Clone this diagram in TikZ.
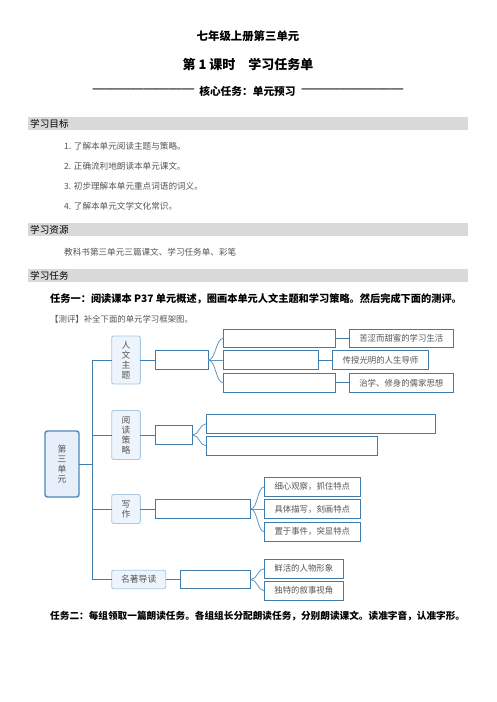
\documentclass[tikz,border=0pt]{standalone}
\usepackage{graphicx}
\usepackage{fontspec}
\setmainfont{Noto Sans CJK SC}
\newfontfamily\dashfont{Latin Modern Roman}
\definecolor{bargray}{HTML}{D9D9D9}
\definecolor{lineblue}{HTML}{3E7CAD}
\definecolor{lightfill}{HTML}{EEF4FB}
\definecolor{lightborder}{HTML}{A9C8E3}
\definecolor{mainborder}{HTML}{4C87BD}
\definecolor{mainfill}{HTML}{E6EFFA}
\definecolor{txtgray}{HTML}{555555}
\newcommand{\dashrun}{\raisebox{-0.45ex}{\scalebox{1}[2.6]{\dashfont\bfseries\fontsize{11.3}{12}\selectfont ————————}}}
\tikzset{
  bar/.style={fill=bargray, draw=none},
  bartext/.style={anchor=west, inner sep=0pt, font=\fontsize{9.6}{10}\selectfont},
  item/.style={anchor=west, inner sep=0pt, text=txtgray, font=\fontsize{8.6}{10}\selectfont},
  task/.style={anchor=west, inner sep=0pt, font=\bfseries\fontsize{10.2}{12}\selectfont},
  lvone/.style={draw=lightborder, fill=lightfill, rounded corners=2pt, line width=0.9pt, inner sep=0pt, outer sep=0pt, text=txtgray, font=\fontsize{8.8}{10}\selectfont, align=center},
  mainbox/.style={draw=mainborder, fill=mainfill, rounded corners=2.5pt, line width=1.4pt, inner sep=0pt, outer sep=0pt, text=txtgray, font=\fontsize{8.8}{10}\selectfont, align=center},
  blank/.style={draw=lineblue, line width=0.9pt, inner sep=0pt, outer sep=0pt},
  lab/.style={draw=lineblue, line width=0.9pt, inner sep=0pt, outer sep=0pt, text=txtgray, font=\fontsize{8.4}{10}\selectfont},
  conn/.style={draw=lineblue, line width=0.9pt},
  brace/.style={draw=lineblue!80, line width=0.8pt}
}
\begin{document}
\begin{tikzpicture}[x=1pt,y=-1pt]
\useasboundingbox[fill=white] (0,0) rectangle (496,702);
% titles
\node[font=\bfseries\fontsize{11.4}{12}\selectfont] (t1) at (248,36) {七年级上册第三单元};
\node[font=\bfseries\fontsize{13}{14}\selectfont] (t2) at (248,64) {第 1 课时\quad 学习任务单};
\node[font=\bfseries\fontsize{10.7}{12}\selectfont, inner sep=0pt] (t3) at (248,92) {\dashrun\hspace{5pt}核心任务：单元预习\hspace{6pt}\dashrun};
% bars
\fill[bar] (28,117) rectangle (468,130);
\node[bartext] (b1) at (30,123.5) {学习目标};
\node[item] (i1) at (64,146) {1. 了解本单元阅读主题与策略。};
\node[item] (i2) at (64,166) {2. 正确流利地朗读本单元课文。};
\node[item] (i3) at (64,186) {3. 初步理解本单元重点词语的词义。};
\node[item] (i4) at (64,206) {4. 了解本单元文学文化常识。};
\fill[bar] (28,223) rectangle (468,236);
\node[bartext] (b2) at (30,229.5) {学习资源};
\node[item] (r1) at (64,252) {教科书第三单元三篇课文、学习任务单、彩笔};
\fill[bar] (28,269) rectangle (468,282);
\node[bartext] (b3) at (30,275.5) {学习任务};
\node[task] (k1) at (50,299) {任务一：阅读课本 P37 单元概述，圈画本单元人文主题和学习策略。然后完成下面的测评。};
\node[item, font=\fontsize{8.4}{10}\selectfont] (k2) at (50,319) {【测评】补全下面的单元学习框架图。};
\node[task, font=\bfseries\fontsize{9.65}{12}\selectfont] (k3) at (50,616) {任务二：每组领取一篇朗读任务。各组组长分配朗读任务，分别朗读课文。读准字音，认准字形。};
% mind map
\node[mainbox, minimum width=34pt, minimum height=66pt] (M) at (62,464) {第\\三\\单\\元};
\node[lvone, minimum width=28.6pt, minimum height=48pt] (T1) at (126,360) {人\\文\\主\\题};
\node[lvone, minimum width=28.6pt, minimum height=49pt] (T2) at (126,435) {阅\\读\\策\\略};
\node[lvone, minimum width=28.6pt, minimum height=29pt] (T3) at (126,509) {写\\作};
\node[lvone, minimum width=54pt, minimum height=18.5pt] (T4) at (138.7,579.5) {名著导读};
\coordinate (tkA) at (92,360);
\coordinate (tkB) at (92,579.5);
\draw[conn] (tkA) -- (tkB);
\draw[conn] (M.east) -- (M.east -| tkA);
\draw[conn] (tkA) -- (T1.west);
\draw[conn] (T2.west -| tkA) -- (T2.west);
\draw[conn] (T3.west -| tkA) -- (T3.west);
\draw[conn] (tkB) -- (T4.west);
% level two
\node[blank, minimum width=53pt, minimum height=19.3pt] (S1) at (181.8,360) {};
\node[blank, minimum width=37.4pt, minimum height=18.7pt] (S2) at (174,435) {};
\node[blank, minimum width=95.4pt, minimum height=19pt] (S3) at (203,509) {};
\node[blank, minimum width=70.4pt, minimum height=18.7pt] (S4) at (215.5,579.5) {};
\draw[conn] (T1.east) -- (S1.west);
\draw[conn] (T2.east) -- (S2.west);
\draw[conn] (T3.east) -- (S3.west);
\draw[conn] (T4.east) -- (S4.west);
% level three
\node[blank, minimum width=112pt, minimum height=18pt] (A1) at (279.3,338.3) {};
\node[blank, minimum width=95pt, minimum height=19pt] (A2) at (270.8,360) {};
\node[blank, minimum width=112pt, minimum height=19pt] (A3) at (279.3,382.8) {};
\node[blank, minimum width=229.3pt, minimum height=19pt] (B1) at (320.7,423.8) {};
\node[blank, minimum width=171.3pt, minimum height=19pt] (B2) at (291.7,445.8) {};
\node[lab, minimum width=96pt, minimum height=19pt] (C1) at (312.3,486.8) {细心观察，抓住特点};
\node[lab, minimum width=96pt, minimum height=19pt] (C2) at (312.3,509) {具体描写，刻画特点};
\node[lab, minimum width=96pt, minimum height=19pt] (C3) at (312.3,531.8) {置于事件，突显特点};
\node[lab, minimum width=79pt, minimum height=18.7pt] (D1) at (303.8,568.7) {鲜活的人物形象};
\node[lab, minimum width=79pt, minimum height=18.7pt] (D2) at (303.8,590.7) {独特的叙事视角};
% label boxes
\node[lab, minimum width=104pt, minimum height=18pt] (K1) at (401.3,338.3) {苦涩而甜蜜的学习生活};
\node[lab, minimum width=96.4pt, minimum height=19pt] (K2) at (380.5,360) {传授光明的人生导师};
\node[lab, minimum width=104pt, minimum height=19pt] (K3) at (401.3,382.8) {治学、修身的儒家思想};
\draw[conn] (A1.east) -- (K1.west);
\draw[conn] (A2.east) -- (K2.west);
\draw[conn] (A3.east) -- (K3.west);
% braces
\draw[brace] (S1.east) .. controls +(7.5,0) and +(-7.5,0) .. (A1.west);
\draw[brace] (S1.east) -- (A2.west);
\draw[brace] (S1.east) .. controls +(7.5,0) and +(-7.5,0) .. (A3.west);
\draw[brace] (S2.east) .. controls +(6.5,0) and +(-6.5,0) .. (B1.west);
\draw[brace] (S2.east) .. controls +(6.5,0) and +(-6.5,0) .. (B2.west);
\draw[brace] (S3.east) .. controls +(6.8,0) and +(-6.8,0) .. (C1.west);
\draw[brace] (S3.east) -- (C2.west);
\draw[brace] (S3.east) .. controls +(6.8,0) and +(-6.8,0) .. (C3.west);
\draw[brace] (S4.east) .. controls +(6.8,0) and +(-6.8,0) .. (D1.west);
\draw[brace] (S4.east) .. controls +(6.8,0) and +(-6.8,0) .. (D2.west);
\end{tikzpicture}
\end{document}
